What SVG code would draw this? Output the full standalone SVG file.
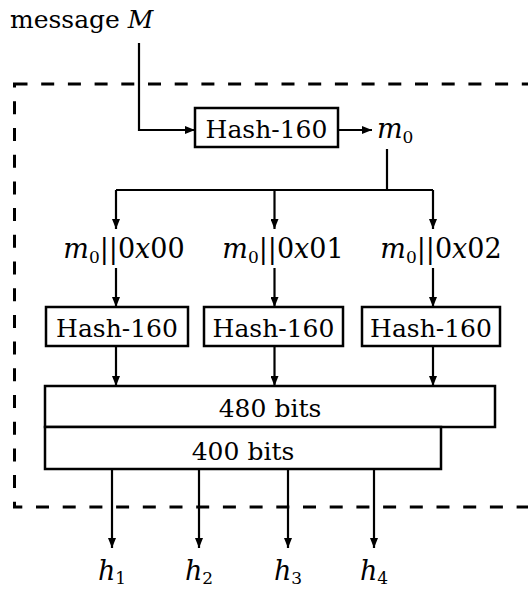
<svg xmlns="http://www.w3.org/2000/svg" width="528" height="590" viewBox="0 0 528 590">
<style>
text{font-family:"DejaVu Serif","Liberation Serif",serif;font-size:25px;fill:#000}
.it{font-style:italic}
.sub{font-size:17px}
.lbl{font-size:27px}
.box{fill:#fff;stroke:#000;stroke-width:2.5}
.ln{fill:none;stroke:#000;stroke-width:2.2}
.dash{fill:none;stroke:#000;stroke-width:3;stroke-dasharray:13 13.7}
</style>
<defs>
<marker id="ah" viewBox="0 0 10 8" refX="10" refY="4" markerWidth="10" markerHeight="8" markerUnits="userSpaceOnUse" orient="auto">
<path d="M0,0 L10,4 L0,8 Z" fill="#000"/>
</marker>
</defs>
<rect class="dash" x="14.5" y="84" width="540" height="423"/>
<g id="connectors">
<path class="ln" d="M139,43 V130 H195" marker-end="url(#ah)"/>
<path class="ln" d="M338,130 H372" marker-end="url(#ah)"/>
<path class="ln" d="M387,149 V190"/>
<path class="ln" d="M116,190 H433"/>
<path class="ln" d="M116,190 V229" marker-end="url(#ah)"/>
<path class="ln" d="M274.5,190 V229" marker-end="url(#ah)"/>
<path class="ln" d="M433,190 V229" marker-end="url(#ah)"/>
<path class="ln" d="M116,268 V307" marker-end="url(#ah)"/>
<path class="ln" d="M274.5,268 V307" marker-end="url(#ah)"/>
<path class="ln" d="M433,268 V307" marker-end="url(#ah)"/>
<path class="ln" d="M116,346 V386" marker-end="url(#ah)"/>
<path class="ln" d="M274.5,346 V386" marker-end="url(#ah)"/>
<path class="ln" d="M433,346 V386" marker-end="url(#ah)"/>
<path class="ln" d="M112,469 V548" marker-end="url(#ah)"/>
<path class="ln" d="M199,469 V548" marker-end="url(#ah)"/>
<path class="ln" d="M288,469 V548" marker-end="url(#ah)"/>
<path class="ln" d="M374,469 V548" marker-end="url(#ah)"/>
</g>
<g id="input"><text x="10" y="28">message <tspan class="it">M</tspan></text></g>
<g id="hash0"><rect class="box" x="195" y="108" width="143" height="39"/><text x="266.5" y="138" text-anchor="middle">Hash-160</text></g>
<g id="m0"><text x="377" y="138" class="it lbl">m<tspan class="sub" font-style="normal" dy="5">0</tspan></text></g>
<g id="label1"><text class="lbl" x="124" y="258" text-anchor="middle"><tspan class="it">m</tspan><tspan class="sub" dy="5">0</tspan><tspan dy="-5">||0</tspan><tspan class="it">x</tspan>00</text></g>
<g id="label2"><text class="lbl" x="283" y="258" text-anchor="middle"><tspan class="it">m</tspan><tspan class="sub" dy="5">0</tspan><tspan dy="-5">||0</tspan><tspan class="it">x</tspan>01</text></g>
<g id="label3"><text class="lbl" x="441" y="258" text-anchor="middle"><tspan class="it">m</tspan><tspan class="sub" dy="5">0</tspan><tspan dy="-5">||0</tspan><tspan class="it">x</tspan>02</text></g>
<g id="hash1"><rect class="box" x="46" y="307" width="142" height="39"/><text x="117" y="337" text-anchor="middle">Hash-160</text></g>
<g id="hash2"><rect class="box" x="204" y="307" width="139" height="39"/><text x="273.5" y="337" text-anchor="middle">Hash-160</text></g>
<g id="hash3"><rect class="box" x="362" y="307" width="138" height="39"/><text x="431" y="337" text-anchor="middle">Hash-160</text></g>
<g id="bits480"><rect class="box" x="45" y="386" width="450" height="41"/><text x="270" y="417" text-anchor="middle">480 bits</text></g>
<g id="bits400"><rect class="box" x="45" y="427" width="396" height="42"/><text x="243" y="460" text-anchor="middle">400 bits</text></g>
<g id="h1"><text class="lbl" x="112" y="580" text-anchor="middle"><tspan class="it">h</tspan><tspan class="sub" dy="4">1</tspan></text></g>
<g id="h2"><text class="lbl" x="199" y="580" text-anchor="middle"><tspan class="it">h</tspan><tspan class="sub" dy="4">2</tspan></text></g>
<g id="h3"><text class="lbl" x="288" y="580" text-anchor="middle"><tspan class="it">h</tspan><tspan class="sub" dy="4">3</tspan></text></g>
<g id="h4"><text class="lbl" x="374" y="580" text-anchor="middle"><tspan class="it">h</tspan><tspan class="sub" dy="4">4</tspan></text></g>
</svg>
